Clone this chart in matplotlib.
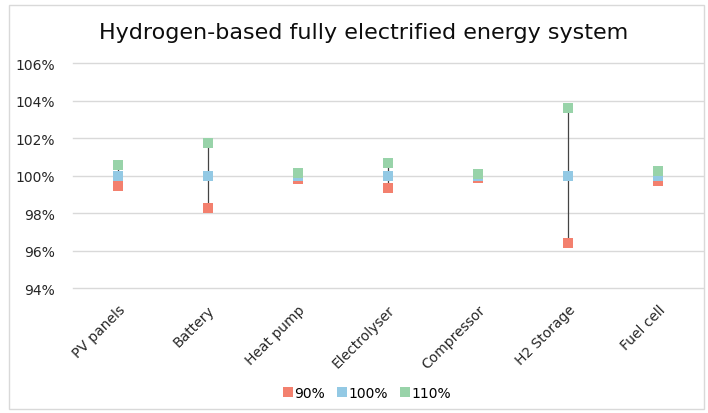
import matplotlib
matplotlib.use("Agg")
import matplotlib.pyplot as plt
from matplotlib.patches import Rectangle
from matplotlib.ticker import FuncFormatter

# Relative system cost (%) when each component cost is scaled to 90 %, 100 %, 110 %
components = ["PV panels", "Battery", "Heat pump", "Electrolyser",
              "Compressor", "H2 Storage", "Fuel cell"]
cost_90 = [99.46, 98.27, 99.83, 99.35, 99.90, 96.40, 99.72]
cost_100 = [100.0, 100.0, 100.0, 100.0, 100.0, 100.0, 100.0]
cost_110 = [100.55, 101.75, 100.15, 100.68, 100.10, 103.60, 100.27]
series_labels = ["90%", "100%", "110%"]
y_ticks = [94, 96, 98, 100, 102, 104, 106]

colors = ["#F3806E", "#93C9E4", "#98D3A9"]

W, H = 708, 414
fig = plt.figure(figsize=(W / 100, H / 100), dpi=100)
ax = fig.add_axes([72.7 / W, 1 - 289.3 / H, (703 - 72.7) / W, (289.3 - 64.3) / H])

x = list(range(len(components)))

# High-low lines joining the 90 % and 110 % results
lo = [min(a, b) for a, b in zip(cost_90, cost_110)]
hi = [max(a, b) for a, b in zip(cost_90, cost_110)]
ax.vlines(x, lo, hi, colors="#444444", linewidth=0.9, zorder=2)

handles = []
for vals, col, lab in zip([cost_90, cost_100, cost_110], colors, series_labels):
    h, = ax.plot(x, vals, linestyle="none", marker="s", markersize=6.6,
                 color=col, markeredgewidth=0, label=lab, zorder=3)
    handles.append(h)

ax.set_xlim(-0.5, len(components) - 0.5)
ax.set_ylim(y_ticks[0], y_ticks[-1])
ax.set_yticks(y_ticks)
ax.yaxis.set_major_formatter(FuncFormatter(lambda v, p: f"{v:.0f}%"))
ax.grid(axis="y", color="#D9D9D9", linewidth=1.0, zorder=0)
for gl in ax.get_ygridlines():
    gl.set_clip_on(False)
ax.set_axisbelow(True)
for s in ax.spines.values():
    s.set_visible(False)
ax.tick_params(axis="both", length=0, labelsize=10, colors="#262626")
ax.tick_params(axis="y", pad=13)
ax.set_xticks(x)
ax.set_xticklabels(components, rotation=45, ha="right", rotation_mode="anchor")
ax.tick_params(axis="x", pad=10)

fig.text(364 / W, 1 - 33 / H, "Hydrogen-based fully electrified energy system",
         ha="center", va="center", fontsize=16, color="#0D0D0D")

fig.legend(handles=handles, loc="center", bbox_to_anchor=(367 / W, 1 - 394 / H),
           ncol=3, frameon=False, fontsize=10, handlelength=0.7,
           handletextpad=0.1, columnspacing=0.9, markerscale=1.0)

# Chart border
fig.patches.append(Rectangle((8.5 / W, 4 / H), (704 - 8.5) / W, (408 - 4) / H,
                             transform=fig.transFigure, fill=False,
                             edgecolor="#D9D9D9", linewidth=1.0))

fig.savefig("out.png", dpi=100, facecolor="white")
